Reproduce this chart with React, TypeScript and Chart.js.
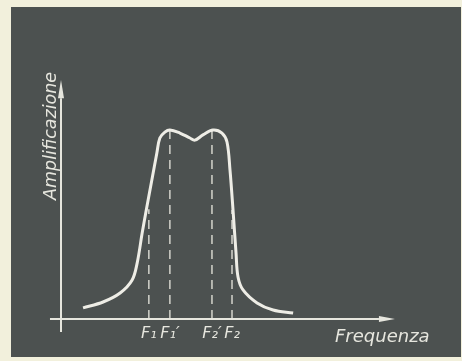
import React, { useEffect, useRef } from "react";
import { Chart, registerables } from "chart.js";

Chart.register(...registerables);

// Frequency axis (arbitrary units 0..100) and amplification (0..100)
const freq = [6.6, 12.6, 17.7, 21.3, 22.8, 24.3, 25.7, 27.2, 28.7, 29.6, 31.1, 32.6, 35.6, 38.6, 40.1, 42.5, 45.5, 48.2, 49.7, 50.6, 51.5, 52.4, 53.0, 54.5, 58.7, 63.5, 69.5];
const ampl = [4.7, 7.2, 11.0, 16.5, 23.7, 36.4, 47.5, 58.9, 70.3, 76.7, 79.2, 80.1, 78.8, 76.7, 75.8, 78.0, 80.1, 78.8, 75.0, 63.1, 46.2, 28.0, 17.8, 12.3, 6.8, 3.8, 2.5];

const markerFreq = [26.3, 32.6, 45.2, 51.2];
const markerAmpl = [46.5, 80.1, 80.1, 46.2];
const tickLabels = ["F₁", "F₁′", "F₂′", "F₂"];

const xTitle = "Frequenza";
const yTitle = "Amplificazione";

const BG_LIGHT = "#f2f0dc";
const BG_DARK = "#4c5150";
const INK = "#e6e6de";
const FONT = "DejaVu Sans";

const decorPlugin = {
  id: "decor",
  beforeDraw(chart: any) {
    const ctx = chart.ctx;
    ctx.save();
    ctx.fillStyle = BG_LIGHT;
    ctx.fillRect(0, 0, chart.width, chart.height);
    ctx.fillStyle = BG_DARK;
    ctx.fillRect(11, 7, chart.width - 12, 350);
    ctx.restore();
  },
  afterDraw(chart: any) {
    const ctx = chart.ctx;
    const xs = chart.scales.x;
    const ys = chart.scales.y;
    const x0 = xs.getPixelForValue(0);
    const y0 = ys.getPixelForValue(0);
    ctx.save();
    ctx.strokeStyle = INK;
    ctx.fillStyle = INK;
    ctx.lineWidth = 2;
    // x axis
    const xStart = xs.getPixelForValue(-3.3);
    const xTip = xs.getPixelForValue(100);
    const xHead = xs.getPixelForValue(95.2);
    ctx.beginPath();
    ctx.moveTo(xStart, y0);
    ctx.lineTo(xHead, y0);
    ctx.stroke();
    ctx.beginPath();
    ctx.moveTo(xTip, y0);
    ctx.lineTo(xHead, y0 - 3);
    ctx.lineTo(xHead, y0 + 3);
    ctx.closePath();
    ctx.fill();
    // y axis
    const yStart = ys.getPixelForValue(-5.5);
    const yTip = ys.getPixelForValue(101.3);
    const yHead = ys.getPixelForValue(93.5);
    ctx.beginPath();
    ctx.moveTo(x0, yStart);
    ctx.lineTo(x0, yHead);
    ctx.stroke();
    ctx.beginPath();
    ctx.moveTo(x0, yTip);
    ctx.lineTo(x0 - 3, yHead);
    ctx.lineTo(x0 + 3, yHead);
    ctx.closePath();
    ctx.fill();
    // titles
    ctx.font = `italic 18px "${FONT}"`;
    ctx.textBaseline = "alphabetic";
    ctx.textAlign = "left";
    ctx.fillText(xTitle, 335, 342);
    ctx.font = `italic 17.5px "${FONT}"`;
    ctx.translate(56, 200);
    ctx.rotate(-Math.PI / 2);
    ctx.fillText(yTitle, 0, 0);
    ctx.restore();
  },
};

export default function App() {
  const ref = useRef<HTMLCanvasElement | null>(null);
  useEffect(() => {
    if (!ref.current) return;
    const curve = freq.map((f, i) => ({ x: f, y: ampl[i] }));
    const markerSets = markerFreq.map((f, i) => ({
      data: [
        { x: f, y: 0 },
        { x: f, y: markerAmpl[i] },
      ],
      borderColor: "#d4d4cc",
      borderWidth: 1.5,
      borderDash: [9, 6],
      pointRadius: 0,
      showLine: true,
      order: 2,
    }));
    const chart = new Chart(ref.current, {
      type: "scatter",
      data: {
        datasets: [
          {
            data: curve,
            borderColor: "#eeede6",
            borderWidth: 3,
            pointRadius: 0,
            showLine: true,
            tension: 0.35,
            order: 1,
          } as any,
          ...markerSets,
        ],
      },
      options: {
        animation: false,
        responsive: false,
        events: [],
        layout: { padding: { left: 61, right: 67, top: 83, bottom: 0 } },
        plugins: { legend: { display: false }, tooltip: { enabled: false } },
        scales: {
          x: {
            type: "linear",
            min: 0,
            max: 100,
            grid: { display: false, drawTicks: false },
            border: { display: false },
            afterBuildTicks: (scale: any) => {
              scale.ticks = markerFreq.map((v) => ({ value: v }));
            },
            afterFit: (scale: any) => {
              scale.height = 42;
            },
            ticks: {
              autoSkip: false,
              maxRotation: 0,
              padding: 5,
              color: INK,
              font: { family: FONT, size: 16, style: "italic" },
              callback: (_v: any, i: number) => tickLabels[i],
            },
          },
          y: {
            type: "linear",
            min: 0,
            max: 100,
            display: false,
          },
        },
      },
      plugins: [decorPlugin],
    } as any);
    return () => chart.destroy();
  }, []);
  return (
    <div style={{ position: "fixed", left: 0, top: 0, width: 462, height: 361 }}>
      <canvas ref={ref} width={462} height={361} style={{ display: "block", width: 462, height: 361 }} />
    </div>
  );
}
